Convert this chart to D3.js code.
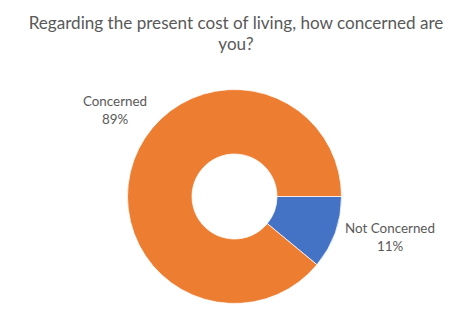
<!DOCTYPE html>
<html>
<head>
<meta charset="utf-8">
<script src="https://cdn.jsdelivr.net/npm/d3@7"></script>
<style>
  html, body { margin: 0; padding: 0; background: #fff; }
  svg { display: block; }
  text { font-family: Lato, "Open Sans", sans-serif; fill: #595959; }
</style>
</head>
<body>
<svg id="chart" width="470" height="323"></svg>
<script>
// Survey answers and their shares (percent)
const categories = ["Not Concerned", "Concerned"];
const values = [11, 89];
const colors = ["#4472C4", "#ED7D31"];
const titleLines = ["Regarding the present cost of living, how concerned are", "you?"];

const width = 470, height = 323;
const cx = 234.5, cy = 196.5;
const outerR = 107, innerR = 42.5;

const svg = d3.select("#chart");

// Title
svg.append("text")
  .attr("x", width / 2 + 1)
  .attr("y", 29)
  .attr("text-anchor", "middle")
  .style("font-size", "17.1px")
  .selectAll("tspan")
  .data(titleLines)
  .join("tspan")
  .attr("x", width / 2 + 1)
  .attr("dy", (d, i) => i === 0 ? 0 : 20.5)
  .text(d => d);

const color = d3.scaleOrdinal().domain(categories).range(colors);

// First slice starts at 3 o'clock and the ring runs clockwise
const pie = d3.pie()
  .sort(null)
  .value(d => d.value)
  .startAngle(Math.PI / 2)
  .endAngle(Math.PI / 2 + 2 * Math.PI);

const data = categories.map((c, i) => ({ category: c, value: values[i] }));
const arcs = pie(data);

const arc = d3.arc().innerRadius(innerR).outerRadius(outerR);

const g = svg.append("g").attr("transform", `translate(${cx},${cy})`);

g.selectAll("path")
  .data(arcs)
  .join("path")
  .attr("d", arc)
  .attr("fill", d => color(d.data.category))
  .attr("stroke", "#fff")
  .attr("stroke-width", 0.75);

// Outside labels: category name above its percentage
const total = d3.sum(values);
const labelPos = {
  "Concerned": [115, 106],
  "Not Concerned": [390, 233]
};

const labels = svg.append("g")
  .selectAll("text")
  .data(arcs)
  .join("text")
  .attr("text-anchor", "middle")
  .style("font-size", "13.4px")
  .attr("transform", d => `translate(${labelPos[d.data.category][0]},${labelPos[d.data.category][1]})`);

labels.append("tspan")
  .attr("x", 0)
  .attr("dy", 0)
  .text(d => d.data.category);

labels.append("tspan")
  .attr("x", 0)
  .attr("dy", 18)
  .text(d => d3.format(".0%")(d.data.value / total));
</script>
</body>
</html>
